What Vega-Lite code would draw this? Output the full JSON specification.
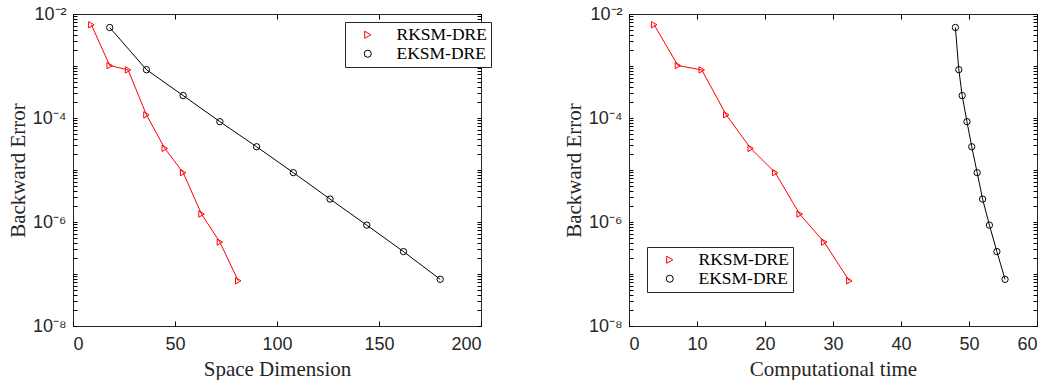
{
  "$schema": "https://vega.github.io/schema/vega-lite/v6.json",
  "padding": {"left": 6, "top": 4, "right": 5, "bottom": 5},
  "spacing": 70,
  "datasets": {
    "conv": [
      {"method": "RKSM-DRE", "dim": 9, "time": 3.7, "err": 0.0062},
      {"method": "RKSM-DRE", "dim": 18, "time": 7.2, "err": 0.00102},
      {"method": "RKSM-DRE", "dim": 27, "time": 10.7, "err": 0.00084},
      {"method": "RKSM-DRE", "dim": 36, "time": 14.3, "err": 0.000115},
      {"method": "RKSM-DRE", "dim": 45, "time": 17.9, "err": 0.000026},
      {"method": "RKSM-DRE", "dim": 54, "time": 21.5, "err": 0.0000089},
      {"method": "RKSM-DRE", "dim": 63, "time": 25.1, "err": 0.00000142},
      {"method": "RKSM-DRE", "dim": 72, "time": 28.7, "err": 0.00000041},
      {"method": "RKSM-DRE", "dim": 81, "time": 32.4, "err": 0.000000074},
      {"method": "EKSM-DRE", "dim": 18, "time": 48.0, "err": 0.0055},
      {"method": "EKSM-DRE", "dim": 36, "time": 48.5, "err": 0.00085},
      {"method": "EKSM-DRE", "dim": 54, "time": 49.0, "err": 0.00027},
      {"method": "EKSM-DRE", "dim": 72, "time": 49.7, "err": 0.000085},
      {"method": "EKSM-DRE", "dim": 90, "time": 50.4, "err": 0.000028},
      {"method": "EKSM-DRE", "dim": 108, "time": 51.2, "err": 0.0000089},
      {"method": "EKSM-DRE", "dim": 126, "time": 52.0, "err": 0.00000276},
      {"method": "EKSM-DRE", "dim": 144, "time": 53.0, "err": 0.00000087},
      {"method": "EKSM-DRE", "dim": 162, "time": 54.1, "err": 0.00000027},
      {"method": "EKSM-DRE", "dim": 180, "time": 55.3, "err": 0.000000079}
    ]
  },
  "config": {
    "font": "Liberation Sans",
    "view": {"stroke": "#262626", "strokeWidth": 1},
    "axis": {
      "domain": false, "grid": false,
      "labelFont": "Liberation Sans", "labelFontSize": 18, "labelColor": "#262626",
      "tickColor": "#000000", "tickWidth": 1,
      "titleFont": "Liberation Serif", "titleFontSize": 21, "titleFontWeight": "normal", "titleColor": "#262626",
      "labelOverlap": false
    },
    "legend": {
      "strokeColor": "#262626", "fillColor": "white", "padding": 4, "rowPadding": 0,
      "labelFont": "Liberation Serif", "labelFontSize": 17.5, "labelColor": "#000000", "labelOffset": 20,
      "symbolStrokeWidth": 1, "symbolOpacity": 1, "symbolSize": 50, "symbolOffset": 10
    }
  },
  "resolve": {"scale": {"color": "independent", "shape": "independent"}, "legend": {"color": "independent", "shape": "independent"}},
  "hconcat": [
    {
      "width": 408, "height": 312,
      "data": {"name": "conv"},
      "layer": [
        {
          "mark": {"type": "point", "filled": false, "size": 40, "strokeWidth": 1, "opacity": 1},
          "encoding": {
            "x": {"field": "dim", "type": "quantitative", "scale": {"domain": [0, 200], "nice": false},
              "axis": {"orient": "top", "title": null, "labels": false, "values": [0, 50, 100, 150, 200], "tickSize": -5}},
            "y": {"field": "err", "type": "quantitative", "scale": {"type": "log", "domain": [1e-8, 1e-2], "nice": false},
              "axis": {"orient": "right", "title": null, "labels": false,
                "values": [1e-8,2e-8,3e-8,4e-8,5e-8,6e-8,7e-8,8e-8,9e-8,1e-7,2e-7,3e-7,4e-7,5e-7,6e-7,7e-7,8e-7,9e-7,1e-6,2e-6,3e-6,4e-6,5e-6,6e-6,7e-6,8e-6,9e-6,1e-5,2e-5,3e-5,4e-5,5e-5,6e-5,7e-5,8e-5,9e-5,1e-4,2e-4,3e-4,4e-4,5e-4,6e-4,7e-4,8e-4,9e-4,1e-3,2e-3,3e-3,4e-3,5e-3,6e-3,7e-3,8e-3,9e-3,1e-2],
                "tickSize": -4}},
            "color": {"field": "method", "type": "nominal", "scale": {"domain": ["RKSM-DRE", "EKSM-DRE"], "range": ["#ff0000", "#000000"]},
              "legend": {"orient": "none", "legendX": 272, "legendY": 8, "title": null}},
            "shape": {"field": "method", "type": "nominal", "scale": {"domain": ["RKSM-DRE", "EKSM-DRE"], "range": ["triangle-right", "circle"]}, "legend": null}
          }
        },
        {
          "mark": {"type": "line", "strokeWidth": 1},
          "encoding": {
            "x": {"field": "dim", "type": "quantitative", "scale": {"domain": [0, 200], "nice": false},
              "axis": {"orient": "bottom", "title": "Space Dimension", "values": [0, 50, 100, 150, 200], "tickSize": -5, "labelPadding": 14, "titlePadding": 5}},
            "y": {"field": "err", "type": "quantitative", "scale": {"type": "log", "domain": [1e-8, 1e-2], "nice": false},
              "axis": {"orient": "left", "title": "Backward Error",
                "values": [1e-8,2e-8,3e-8,4e-8,5e-8,6e-8,7e-8,8e-8,9e-8,1e-7,2e-7,3e-7,4e-7,5e-7,6e-7,7e-7,8e-7,9e-7,1e-6,2e-6,3e-6,4e-6,5e-6,6e-6,7e-6,8e-6,9e-6,1e-5,2e-5,3e-5,4e-5,5e-5,6e-5,7e-5,8e-5,9e-5,1e-4,2e-4,3e-4,4e-4,5e-4,6e-4,7e-4,8e-4,9e-4,1e-3,2e-3,3e-3,4e-3,5e-3,6e-3,7e-3,8e-3,9e-3,1e-2],
                "labelExpr": "abs(log(datum.value)/LN10 - round(log(datum.value)/LN10)) < 1e-6 && round(log(datum.value)/LN10) % 2 == 0 ? '10' + ({'-2': '⁻²', '-4': '⁻⁴', '-6': '⁻⁶', '-8': '⁻⁸'})[round(log(datum.value)/LN10)] : ''",
                "tickSize": -4,
                "labelPadding": 11, "titlePadding": 4}},
            "color": {"field": "method", "type": "nominal", "scale": {"domain": ["RKSM-DRE", "EKSM-DRE"], "range": ["#ff0000", "#000000"]}}
          }
        }
      ],
      "resolve": {"axis": {"x": "independent", "y": "independent"}}
    },
    {
      "width": 408, "height": 312,
      "data": {"name": "conv"},
      "layer": [
        {
          "mark": {"type": "point", "filled": false, "size": 40, "strokeWidth": 1, "opacity": 1},
          "encoding": {
            "x": {"field": "time", "type": "quantitative", "scale": {"domain": [0, 60], "nice": false},
              "axis": {"orient": "top", "title": null, "labels": false, "values": [0, 10, 20, 30, 40, 50, 60], "tickSize": -5}},
            "y": {"field": "err", "type": "quantitative", "scale": {"type": "log", "domain": [1e-8, 1e-2], "nice": false},
              "axis": {"orient": "right", "title": null, "labels": false,
                "values": [1e-8,2e-8,3e-8,4e-8,5e-8,6e-8,7e-8,8e-8,9e-8,1e-7,2e-7,3e-7,4e-7,5e-7,6e-7,7e-7,8e-7,9e-7,1e-6,2e-6,3e-6,4e-6,5e-6,6e-6,7e-6,8e-6,9e-6,1e-5,2e-5,3e-5,4e-5,5e-5,6e-5,7e-5,8e-5,9e-5,1e-4,2e-4,3e-4,4e-4,5e-4,6e-4,7e-4,8e-4,9e-4,1e-3,2e-3,3e-3,4e-3,5e-3,6e-3,7e-3,8e-3,9e-3,1e-2],
                "tickSize": -4}},
            "color": {"field": "method", "type": "nominal", "scale": {"domain": ["RKSM-DRE", "EKSM-DRE"], "range": ["#ff0000", "#000000"]},
              "legend": {"orient": "none", "legendX": 18, "legendY": 233, "title": null}},
            "shape": {"field": "method", "type": "nominal", "scale": {"domain": ["RKSM-DRE", "EKSM-DRE"], "range": ["triangle-right", "circle"]}, "legend": null}
          }
        },
        {
          "mark": {"type": "line", "strokeWidth": 1},
          "encoding": {
            "x": {"field": "time", "type": "quantitative", "scale": {"domain": [0, 60], "nice": false},
              "axis": {"orient": "bottom", "title": "Computational time", "values": [0, 10, 20, 30, 40, 50, 60], "tickSize": -5, "labelPadding": 14, "titlePadding": 5}},
            "y": {"field": "err", "type": "quantitative", "scale": {"type": "log", "domain": [1e-8, 1e-2], "nice": false},
              "axis": {"orient": "left", "title": "Backward Error",
                "values": [1e-8,2e-8,3e-8,4e-8,5e-8,6e-8,7e-8,8e-8,9e-8,1e-7,2e-7,3e-7,4e-7,5e-7,6e-7,7e-7,8e-7,9e-7,1e-6,2e-6,3e-6,4e-6,5e-6,6e-6,7e-6,8e-6,9e-6,1e-5,2e-5,3e-5,4e-5,5e-5,6e-5,7e-5,8e-5,9e-5,1e-4,2e-4,3e-4,4e-4,5e-4,6e-4,7e-4,8e-4,9e-4,1e-3,2e-3,3e-3,4e-3,5e-3,6e-3,7e-3,8e-3,9e-3,1e-2],
                "labelExpr": "abs(log(datum.value)/LN10 - round(log(datum.value)/LN10)) < 1e-6 && round(log(datum.value)/LN10) % 2 == 0 ? '10' + ({'-2': '⁻²', '-4': '⁻⁴', '-6': '⁻⁶', '-8': '⁻⁸'})[round(log(datum.value)/LN10)] : ''",
                "tickSize": -4,
                "labelPadding": 11, "titlePadding": 4}},
            "color": {"field": "method", "type": "nominal", "scale": {"domain": ["RKSM-DRE", "EKSM-DRE"], "range": ["#ff0000", "#000000"]}}
          }
        }
      ],
      "resolve": {"axis": {"x": "independent", "y": "independent"}}
    }
  ]
}
